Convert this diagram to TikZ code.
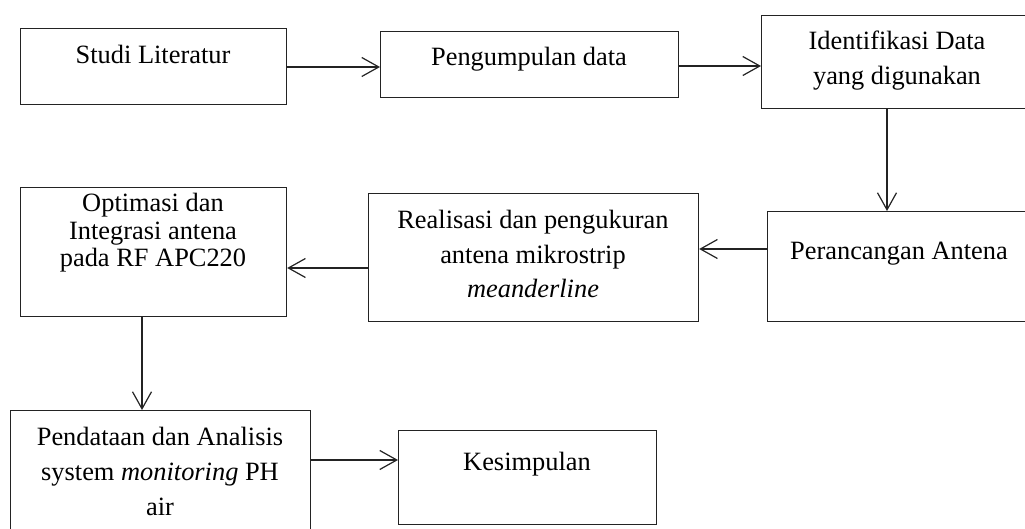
\documentclass[tikz,border=0pt]{standalone}
\usepackage{fontspec}
\setmainfont{Liberation Serif}
\usetikzlibrary{arrows.meta}
\definecolor{linec}{RGB}{35,35,35}
\begin{document}
\begin{tikzpicture}[x=1pt,y=-1pt,
  box/.style={draw=linec, line width=1.2pt, anchor=north west, inner sep=0pt, fill=white},
  lbl/.style={anchor=base, inner sep=0pt, font=\fontsize{26.4}{#1}\selectfont},
  lbl/.default=35,
  arr/.style={draw=linec, line width=1.2pt, -{Straight Barb[length=17pt,width=19pt]}}]
\useasboundingbox (0,0) rectangle (1025,529);
\clip (0,0) rectangle (1025,529);
\fill[white] (0,0) rectangle (1025,529);
% boxes
\node[box, minimum width=266pt, minimum height=76pt] (studi) at (20,28) {};
\node[box, minimum width=298pt, minimum height=66pt] (peng) at (380,31) {};
\node[box, minimum width=280pt, minimum height=93pt] (ident) at (761,15) {};
\node[box, minimum width=270pt, minimum height=110pt] (peranc) at (767,211) {};
\node[box, minimum width=330pt, minimum height=128pt] (real) at (368,193) {};
\node[box, minimum width=266pt, minimum height=129pt] (optim) at (20,187) {};
\node[box, minimum width=300pt, minimum height=150pt] (pend) at (10,410) {};
\node[box, minimum width=258pt, minimum height=94pt] (kes) at (398,430) {};
% labels
\node[lbl] (tstudi) at (153,64) {Studi Literatur};
\node[lbl] (tpeng) at (529,66) {Pengumpulan data};
\node[lbl=35] (tident) at (897,50) {\begin{tabular}[t]{@{}c@{}}Identifikasi Data\\yang digunakan\end{tabular}};
\node[lbl] (tperanc) at (899,260) {Perancangan Antena};
\node[lbl=34.5] (treal) at (533,229) {\begin{tabular}[t]{@{}c@{}}Realisasi dan pengukuran\\antena mikrostrip\\\textit{meanderline}\end{tabular}};
\node[lbl=27.5] (toptim) at (153,212) {\begin{tabular}[t]{@{}c@{}}Optimasi dan\\Integrasi antena\\pada RF APC220\end{tabular}};
\node[lbl=35] (tpend) at (160,445) {\begin{tabular}[t]{@{}c@{}}Pendataan dan Analisis\\system \textit{monitoring} PH\\air\end{tabular}};
\node[lbl] (tkes) at (527,470) {Kesimpulan};
% arrow levels
\coordinate (y1) at (0,67);
\coordinate (y2) at (0,66);
\coordinate (x3) at (887,0);
\coordinate (y4) at (0,249);
\coordinate (y5) at (0,268);
\coordinate (x6) at (142,0);
\coordinate (y7) at (0,460);
% connectors
\draw[arr] (studi.east |- y1) -- (peng.west |- y1);
\draw[arr] (peng.east |- y2) -- (ident.west |- y2);
\draw[arr] (ident.south -| x3) -- (peranc.north -| x3);
\draw[arr] (peranc.west |- y4) -- (real.east |- y4);
\draw[arr] (real.west |- y5) -- (optim.east |- y5);
\draw[arr] (optim.south -| x6) -- (pend.north -| x6);
\draw[arr] (pend.east |- y7) -- (kes.west |- y7);
\end{tikzpicture}
\end{document}
